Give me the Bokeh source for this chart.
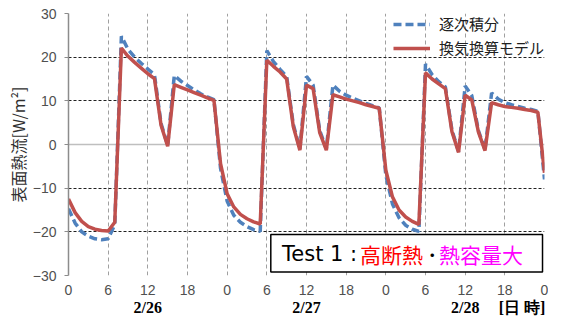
from bokeh.plotting import figure
from bokeh.models import (ColumnDataSource, FixedTicker, Span, Label, BoxAnnotation, Range1d, LinearAxis)
from bokeh.embed import file_html
from bokeh.resources import INLINE

# ---- data ----
hours = list(range(73))
model = [-12.5, -15.6, -17.6, -18.8, -19.4, -19.7, -19.8, -17.8, 22.1, 20.2,
         18.8, 17.5, 16.2, 15.1, 4.4, -0.4, 13.7, 13.1, 12.5, 11.9,
         11.3, 10.7, 10.1, -4.4, -11.3, -14.3, -16.0, -17.0, -17.7, -18.2,
         19.3, 17.9, 16.6, 15.0, 4.1, -1.3, 13.6, 12.8, 2.7, -1.3,
         11.4, 10.9, 10.4, 10.0, 9.6, 9.1, 8.7, 8.3, -5.9, -12.0,
         -15.0, -16.6, -17.6, -18.3, 16.4, 15.0, 13.9, 12.8, 2.9, -1.8,
         11.3, 10.2, 2.9, -1.4, 9.6, 9.1, 8.7, 8.5, 8.3, 8.0,
         7.8, 7.4, -6.5]
seq = [-14.7, -18.0, -20.0, -21.0, -21.6, -21.8, -21.6, -18.3, 24.8, 21.8,
       20.0, 18.6, 17.3, 16.0, 4.8, -0.2, 15.8, 14.5, 13.5, 12.5,
       11.6, 10.9, 10.3, -5.5, -13.0, -16.2, -17.8, -18.8, -19.5, -19.9,
       21.5, 19.0, 17.2, 15.6, 4.6, -1.0, 15.6, 13.6, 3.2, -1.0,
       13.6, 12.2, 11.3, 10.6, 10.0, 9.4, 8.9, 8.4, -7.0, -13.6,
       -16.8, -18.5, -19.4, -19.9, 18.4, 16.0, 14.4, 13.2, 3.3, -1.6,
       13.4, 11.2, 3.2, -1.2, 11.8, 10.4, 9.6, 9.1, 8.7, 8.3,
       8.0, 7.6, -8.0]
x_tick_hours = [0, 6, 12, 18, 24, 30, 36, 42, 48, 54, 60, 66, 72]
x_tick_labels = ["0", "6", "12", "18", "0", "6", "12", "18", "0", "6", "12", "18", "0"]
y_ticks = [-30, -20, -10, 0, 10, 20, 30]
dates = ["2/26", "2/27", "2/28"]
date_hours = [12, 36, 60]
unit_label = "[日 時]"
unit_hour = 68.6
series_names = ["逐次積分", "換気換算モデル"]
y_title = "表面熱流[W/m²]"

src = ColumnDataSource(dict(h=hours, model=model, seq=seq))

p = figure(width=548, height=318, x_range=Range1d(0, 72), y_range=Range1d(-30, 30),
           output_backend="svg", toolbar_location=None,
           min_border_left=68, min_border_right=4, min_border_top=13, min_border_bottom=42,
           background_fill_color="white", border_fill_color="white")
p.outline_line_color = None

# grids
p.xgrid.ticker = FixedTicker(ticks=x_tick_hours)
p.xgrid.grid_line_color = "#a0a0a0"
p.xgrid.grid_line_dash = "4 3"
p.xgrid.grid_line_width = 1
p.ygrid.ticker = FixedTicker(ticks=[t for t in y_ticks if t != 0])
p.ygrid.grid_line_color = "#202020"
p.ygrid.grid_line_dash = "3 2"
p.ygrid.grid_line_width = 1.2
zero = Span(location=0, dimension="width", line_color="#bfbfbf", line_width=1.5, level="underlay")
p.add_layout(zero)

# hour axis
xa = p.below[0]
xa.ticker = FixedTicker(ticks=x_tick_hours)
xa.major_label_overrides = {h: l for h, l in zip(x_tick_hours, x_tick_labels)}
xa.axis_line_color = None
xa.major_tick_line_color = None
xa.minor_tick_line_color = None
xa.major_tick_out = 0
xa.major_tick_in = 0
xa.minor_tick_out = 0
xa.major_label_standoff = 9
xa.major_label_text_font = "Liberation Sans"
xa.major_label_text_font_size = "14px"
xa.major_label_text_color = "#505050"

# date axis
date_axis = LinearAxis(ticker=FixedTicker(ticks=date_hours + [unit_hour]),
                       major_label_overrides={**{h: d for h, d in zip(date_hours, dates)},
                                              unit_hour: unit_label},
                       axis_line_color=None, major_tick_line_color=None,
                       minor_tick_line_color=None, major_tick_out=0, major_tick_in=0,
                       minor_tick_out=0, major_label_standoff=1,
                       major_label_text_font="Liberation Serif",
                       major_label_text_font_style="bold",
                       major_label_text_font_size="16px",
                       major_label_text_color="black")
p.add_layout(date_axis, "below")

# y axis
ya = p.left[0]
ya.ticker = FixedTicker(ticks=y_ticks)
ya.axis_line_color = "#8c8c8c"
ya.axis_line_width = 1.5
ya.major_tick_line_color = "#8c8c8c"
ya.major_tick_in = 0
ya.major_tick_out = 4
ya.minor_tick_line_color = None
ya.major_label_standoff = 8
ya.major_label_text_font = "Liberation Sans"
ya.major_label_text_font_size = "14px"
ya.major_label_text_color = "#505050"
ya.axis_label = y_title
ya.axis_label_text_font = "Noto Sans CJK JP"
ya.axis_label_text_font_style = "normal"
ya.axis_label_text_font_size = "16px"
ya.axis_label_text_color = "#303030"
ya.axis_label_standoff = 0

# lines
p.line("h", "seq", source=src, line_color="#4F81BD", line_width=3.5, line_dash="8 4",
       legend_label=series_names[0])
p.line("h", "model", source=src, line_color="#C0504D", line_width=3.5,
       legend_label=series_names[1])

lg = p.legend[0]
lg.location = "top_right"
lg.background_fill_alpha = 0
lg.border_line_alpha = 0
lg.padding = 0
lg.margin = 0
lg.spacing = 3
lg.glyph_width = 37
lg.glyph_height = 20
lg.label_height = 20
lg.label_standoff = 9
lg.label_text_font = "Noto Sans CJK JP"
lg.label_text_font_size = "15px"
lg.label_text_color = "#202020"

# annotation box
box = BoxAnnotation(left=30.6, right=71.7, top=-20.6, bottom=-29.2,
                    fill_color="white", fill_alpha=1.0, line_color="black",
                    line_alpha=1.0, line_width=1.5)
p.add_layout(box)
segs = [("Test 1", "black", "DejaVu Sans", 0), (":", "black", "DejaVu Sans", 68),
        ("高断熱", "#FF0000", "Noto Sans CJK JP", 78),
        ("･", "black", "Noto Sans CJK JP", 145), ("熱容量大", "#FF00FF", "Noto Sans CJK JP", 157)]
for t, c, f, off in segs:
    p.add_layout(Label(x=32.3, y=-25, x_offset=off, text=t, text_color=c,
                       text_font=f, text_font_size="21px",
                       text_baseline="middle", text_align="left"))

open("out.html", "w").write(file_html(p, INLINE))
